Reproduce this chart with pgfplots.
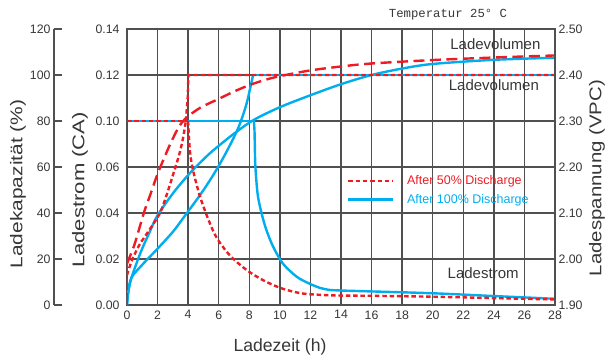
\documentclass[border=0pt]{standalone}
\usepackage{pgfplots}
\pgfplotsset{compat=1.18}
\usepackage{graphicx}
\usepackage{fontspec}
\setmainfont{Liberation Sans}
\newfontfamily\monofont{Liberation Mono}
\definecolor{cred}{RGB}{237,28,36}
\definecolor{cblue}{RGB}{0,174,239}
\definecolor{gridc}{RGB}{80,80,80}
\definecolor{textc}{RGB}{55,55,55}
\tikzset{
  dotred/.style={cred, line width=2.4pt, dash pattern=on 4.5pt off 2.8pt},
  dashred/.style={cred, line width=2.4pt, dash pattern=on 11pt off 5.5pt},
  solblue/.style={cblue, line width=2.4pt},
}
\begin{document}
\begin{tikzpicture}
\path[use as bounding box] (-127pt,-56pt) rectangle (480pt,305pt);
% outer left axis: Ladekapazitaet
\begin{axis}[at={(-73pt,0pt)}, anchor=south west, scale only axis,
  width=1pt, height=276pt, xmin=0, xmax=1, ymin=0, ymax=120,
  axis y line*=left, axis x line=none,
  ytick={0,20,...,120}, yticklabels={0,20,40,60,80,100,120},
  tick align=inside, major tick length=8pt,
  axis line style={gridc, line width=1.3pt},
  major tick style={gridc, line width=1.3pt},
  /pgf/number format/assume math mode=true,
  tick label style={font=\fontsize{12.3}{14}\selectfont, text=textc}]
\end{axis}
% main axis
\begin{axis}[at={(0pt,0pt)}, anchor=south west, scale only axis,
  width=428pt, height=276pt, xmin=0, xmax=28, ymin=0, ymax=120,
  xtick={0,2,...,28},
  xticklabels={0,2,4,6,8,10,12,14,16,18,20,22,24,26,28},
  ytick={0,20,...,120},
  yticklabels={0.00,0.02,0.04,0.06,0.10,0.12,0.14},
  grid=major, major grid style={gridc, line width=1.3pt},
  axis line style={gridc, line width=1.3pt},
  major tick length=0pt,
  /pgf/number format/assume math mode=true,
  tick label style={font=\fontsize{12.3}{14}\selectfont, text=textc},
  yticklabel style={xshift=-4pt},
  xticklabel style={yshift=-2pt},
  legend cell align=left,
  legend style={draw=none, fill=none, at={(axis cs:14.39,57.2)}, anchor=north west,
    font=\fontsize{12.5}{14}\selectfont, row sep=4pt, inner sep=0pt,
    /tikz/every odd column/.append style={column sep=10.5pt}},
  legend image code/.code={\draw[#1] (0pt,0pt) -- (45pt,0pt);},
]
% blue: current
\addplot[solblue, forget plot] coordinates {(0,80) (8.3,80)};
\addplot[solblue, forget plot, smooth, tension=0.5] coordinates {
(8.3,80) (8.34,76) (8.36,70) (8.4,60) (8.55,48) (8.8,40) (9.1,33)
(9.55,25.5) (10.2,18) (11.1,12.3) (11.9,9.4) (12.6,7.5) (13.2,6.6) (14,6.3)
(16,5.9) (20,5.1) (24,3.9) (28,2.7)};
% blue: voltage
\addplot[solblue, forget plot, smooth, tension=0.5] coordinates {
(0,0) (0.08,6) (0.3,12) (1,17.5) (2,24.5) (3,31.8) (3.7,38) (4.8,48)
(5.5,55) (6,60.5) (6.5,66.5) (7,73) (7.4,79) (7.8,87) (8.05,94) (8.25,100)};
\addplot[solblue, forget plot] coordinates {(8.25,100) (28,100)};
% blue: capacity
\addplot[solblue, forget plot, smooth, tension=0.5] coordinates {
(0,0) (0.1,6) (0.3,12) (0.9,23) (1.5,32) (2,39) (3,48.5) (4,56.5) (4.8,62)
(5.6,67) (7,74.5) (8.3,80.5) (10,86) (12,91.2) (14,96) (16,100) (18,102.8)
(20,104.8) (24,106.6) (28,107.5)};
% red dashed: capacity
\addplot[dashred, forget plot] coordinates {(0,0) (0,18)};
\addplot[dashred, forget plot, smooth, tension=0.5] coordinates {
(0,18) (0.5,26.5) (1.1,40) (1.5,47.5) (2,57) (2.5,65) (2.9,71)
(3.4,77.5) (3.9,81.5) (4.8,85.8) (5.9,89.3) (7,92.8) (8,95.6)
(9,97.8) (10,99.5) (12,102) (14,103.7) (16,105) (20,106.5) (24,107.6) (28,108.5)};
% red dotted: voltage
\addplot[dotred, forget plot] coordinates {(0,0) (0,13)};
\addplot[dotred, forget plot, smooth, tension=0.5] coordinates {
(0,13) (0.3,19) (0.8,26) (1.5,33) (2.16,40) (2.6,48) (3.03,57)
(3.4,65) (3.65,72) (3.85,80)};
\addplot[dotred, forget plot] coordinates {(3.85,80) (3.97,90) (4.02,100) (28,100)};
% red dotted: current
\addplot[dotred, forget plot] coordinates {(0,80) (4,80)};
\addplot[dotred, forget plot, smooth, tension=0.5] coordinates {
(4,80) (4.06,72) (4.15,65) (4.34,58) (4.77,47.3) (5.32,37.2)
(5.87,29.2) (6.74,21.5) (7.83,15.2) (8.9,10.8) (10,7.5) (11,5.6) (11.75,4.8)
(13,4.3) (14,4.1) (16,4) (20,3.6) (24,3) (28,2.4)};
\addlegendimage{dotred}
\addlegendentry{\textcolor{cred}{After 50\% Discharge}}
\addlegendimage{solblue}
\addlegendentry{\textcolor{cblue}{After 100\% Discharge}}
\node[text=textc, font=\fontsize{15}{17}\selectfont] at (axis cs:24.1,113.3) {Ladevolumen};
\node[text=textc, font=\fontsize{15}{17}\selectfont] at (axis cs:24.0,95.4) {Ladevolumen};
\node[text=textc, font=\fontsize{15}{17}\selectfont] at (axis cs:23.3,13.7) {Ladestrom};
\end{axis}
% right axis: voltage
\begin{axis}[at={(0pt,0pt)}, anchor=south west, scale only axis,
  width=428pt, height=276pt, xmin=0, xmax=28, ymin=1.9, ymax=2.5,
  axis y line*=right, axis x line=none,
  ytick={1.9,2,2.1,2.2,2.3,2.4,2.5},
  yticklabels={1.90,2.00,2.10,2.20,2.30,2.40,2.50},
  major tick length=0pt,
  axis line style={gridc, line width=1.3pt},
  /pgf/number format/assume math mode=true,
  tick label style={font=\fontsize{12.3}{14}\selectfont, text=textc}]
\end{axis}
% titles and axis labels
\node[text=textc, font=\monofont\fontsize{12.3}{14}\selectfont] at (321pt,290pt) {Temperatur 25° C};
\node[text=textc, font=\fontsize{17.6}{20}\selectfont] at (153pt,-42pt) {Ladezeit (h)};
\node[text=textc, rotate=90, font=\fontsize{17}{20}\selectfont] at (-109pt,121pt) {\scalebox{1.23}[1]{Ladekapazität (\%)}};
\node[text=textc, rotate=90, font=\fontsize{17}{20}\selectfont] at (-47pt,115pt) {\scalebox{1.3}[1]{Ladestrom (CA)}};
\node[text=textc, rotate=90, font=\fontsize{17}{20}\selectfont] at (470pt,127pt) {\scalebox{1.2}[1]{Ladespannung (VPC)}};
\end{tikzpicture}
\end{document}
